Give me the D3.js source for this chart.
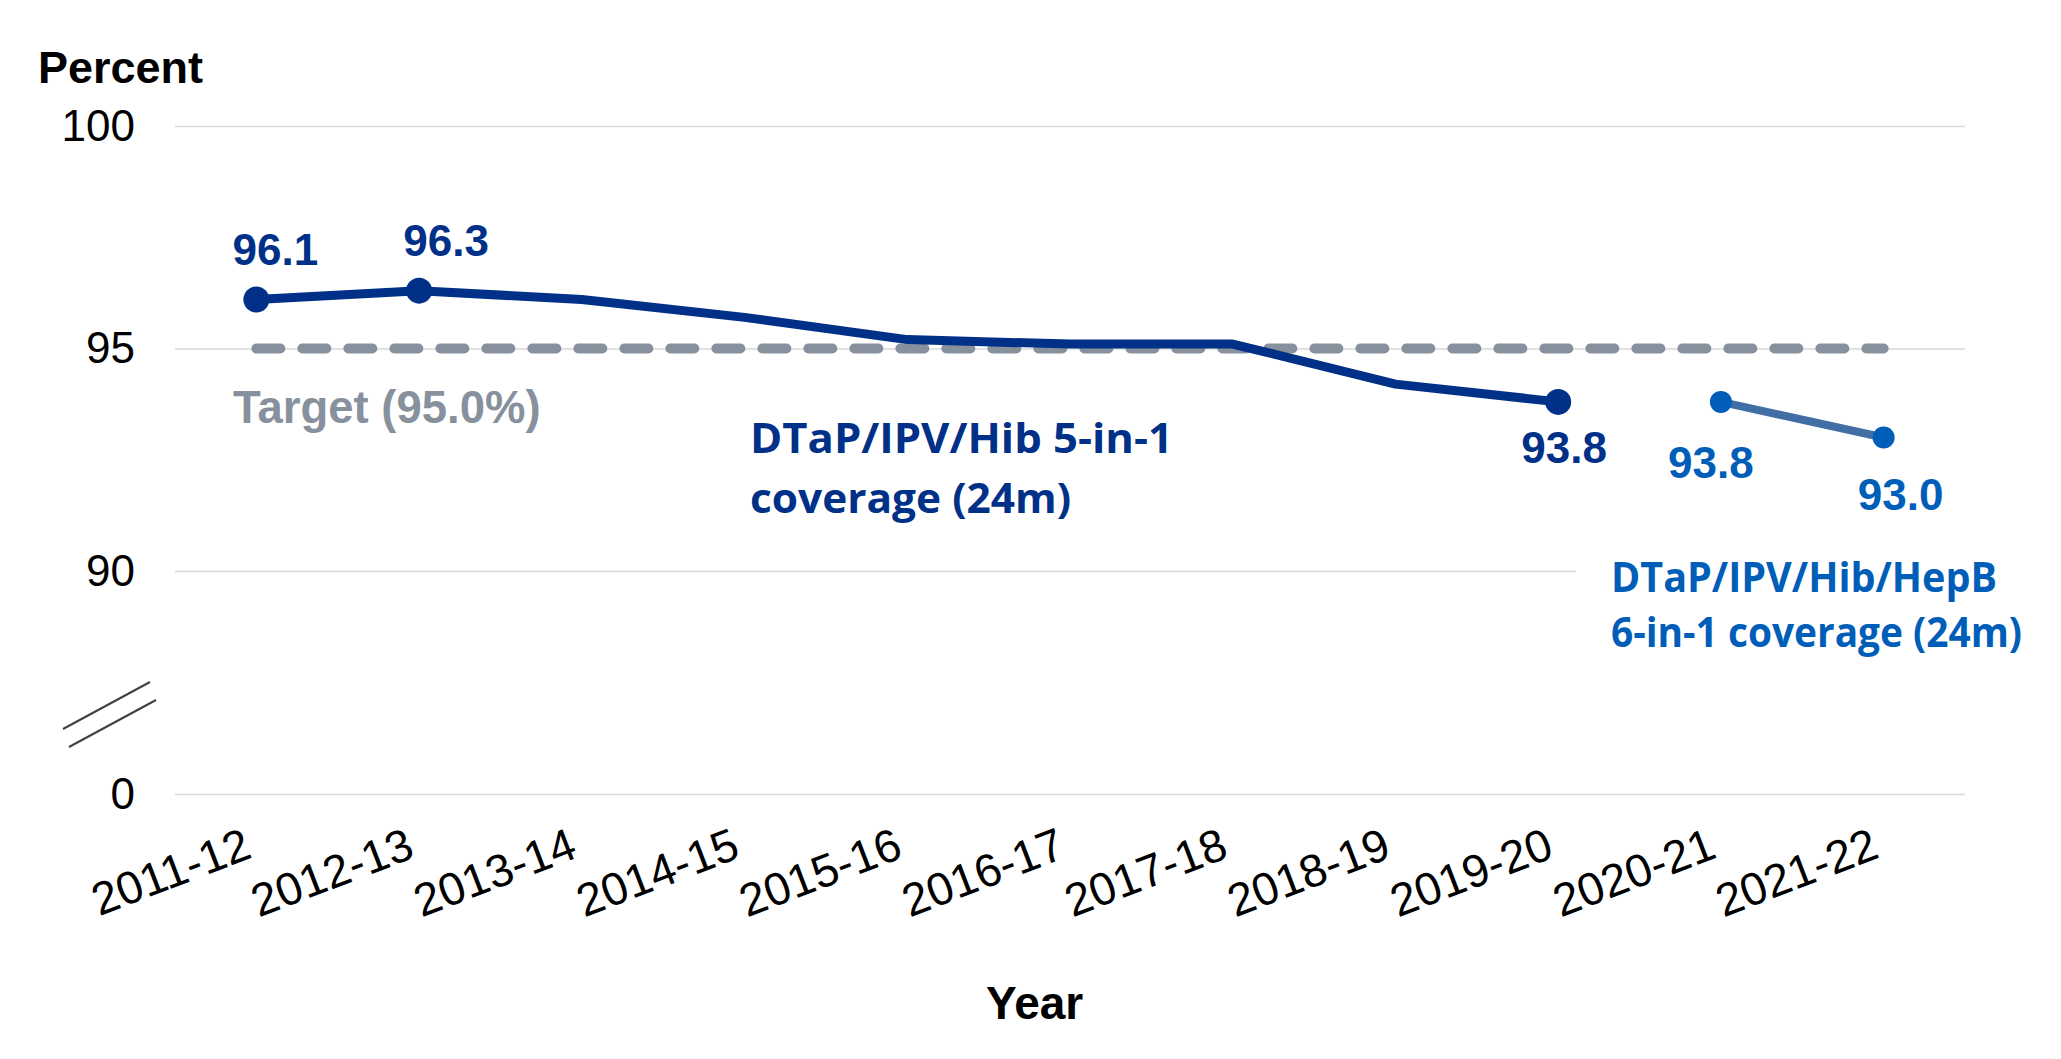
<!DOCTYPE html>
<html>
<head>
<meta charset="utf-8">
<script src="https://cdn.jsdelivr.net/npm/d3@7"></script>
<style>
  body { margin: 0; background: #fff; }
  text { font-family: "Liberation Sans", Arial, sans-serif; }
</style>
</head>
<body>
<script>
const years = ["2011-12", "2012-13", "2013-14", "2014-15", "2015-16", "2016-17",
  "2017-18", "2018-19", "2019-20", "2020-21", "2021-22"];
// DTaP/IPV/Hib 5-in-1 coverage at 24 months
const fiveInOne = [96.1, 96.3, 96.1, 95.7, 95.2, 95.1, 95.1, 94.2, 93.8, null, null];
// DTaP/IPV/Hib/HepB 6-in-1 coverage at 24 months
const sixInOne = [null, null, null, null, null, null, null, null, null, 93.8, 93.0];
const target = 95.0;
const yTicks = [0, 90, 95, 100];

// which points get a marker + value label
const fiveLabelled = ["2011-12", "2012-13", "2019-20"];
const sixLabelled = ["2020-21", "2021-22"];

const w = 2061, h = 1059;
const navy = "#003087", blue = "#005eb8", blueLine = "#426ea6", grey = "#87919d";

const svg = d3.select("body")
  .append("svg")
  .attr("width", w)
  .attr("height", h);

const x = d3.scalePoint()
  .domain(years)
  .range([175, 1965])
  .padding(0.5);

// broken axis: 0 sits just below 90
const y = d3.scaleLinear()
  .domain([0, 90, 100])
  .range([794, 571, 126]);

// gridlines + y labels
const yAxis = d3.axisLeft(y)
  .tickValues(yTicks)
  .tickSize(-(1965 - 175))
  .tickPadding(40)
  .tickFormat(d => d);

svg.append("g")
  .attr("transform", "translate(175,0)")
  .call(yAxis)
  .call(g => g.select(".domain").remove())
  .call(g => g.selectAll(".tick line").attr("stroke", "#d9d9d9").attr("stroke-width", 1.5))
  .call(g => g.selectAll(".tick text")
    .attr("fill", "#000")
    .attr("font-size", 44)
    .attr("font-family", "Liberation Sans, Arial, sans-serif"));

// axis break marks
svg.append("g")
  .attr("stroke", "#404040")
  .attr("stroke-width", 2)
  .selectAll("line")
  .data([0, 18])
  .enter()
  .append("line")
  .attr("x1", d => 63 + d / 3)
  .attr("y1", d => 729 + d)
  .attr("x2", d => 150 + d / 3)
  .attr("y2", d => 682 + d);

// x labels
const xAxis = d3.axisBottom(x).tickSize(0).tickPadding(0);
svg.append("g")
  .attr("transform", "translate(0,826)")
  .call(xAxis)
  .call(g => g.select(".domain").remove())
  .call(g => g.selectAll(".tick text")
    .attr("fill", "#000")
    .attr("font-size", 46)
    .attr("font-family", "Liberation Sans, Arial, sans-serif")
    .attr("text-anchor", "end")
    .attr("y", 0)
    .attr("dy", "0.72em")
    .attr("transform", "translate(-15,0) rotate(-21)"));

// target line
svg.append("line")
  .attr("x1", x(years[0]))
  .attr("x2", x(years[years.length - 1]))
  .attr("y1", y(target))
  .attr("y2", y(target))
  .attr("stroke", grey)
  .attr("stroke-width", 10)
  .attr("stroke-linecap", "round")
  .attr("stroke-dasharray", "24 22");

svg.append("text")
  .attr("x", 233)
  .attr("y", 423)
  .attr("font-size", 45.5)
  .attr("font-weight", "bold")
  .attr("fill", grey)
  .text(`Target (${target.toFixed(1)}%)`);

const line = d3.line()
  .defined(d => d.v != null)
  .x(d => x(d.year))
  .y(d => y(d.v));

const fiveData = years.map((year, i) => ({ year, v: fiveInOne[i] }));
const sixData = years.map((year, i) => ({ year, v: sixInOne[i] }));

svg.append("path")
  .datum(fiveData)
  .attr("d", line)
  .attr("fill", "none")
  .attr("stroke", navy)
  .attr("stroke-width", 9)
  .attr("stroke-linejoin", "round");

svg.append("path")
  .datum(sixData)
  .attr("d", line)
  .attr("fill", "none")
  .attr("stroke", blueLine)
  .attr("stroke-width", 8);

const fivePts = fiveData.filter(d => fiveLabelled.includes(d.year));
const sixPts = sixData.filter(d => sixLabelled.includes(d.year));

svg.append("g").selectAll("circle")
  .data(fivePts)
  .enter()
  .append("circle")
  .attr("cx", d => x(d.year))
  .attr("cy", d => y(d.v))
  .attr("r", 13)
  .attr("fill", navy);

svg.append("g").selectAll("circle")
  .data(sixPts)
  .enter()
  .append("circle")
  .attr("cx", d => x(d.year))
  .attr("cy", d => y(d.v))
  .attr("r", 11)
  .attr("fill", blue);

// value label offsets from each point
const fiveOffsets = [[19, -35], [27, -35], [6, 61]];
const sixOffsets = [[-10, 76], [17, 72]];

svg.append("g").selectAll("text")
  .data(fivePts)
  .enter()
  .append("text")
  .attr("x", (d, i) => x(d.year) + fiveOffsets[i][0])
  .attr("y", (d, i) => y(d.v) + fiveOffsets[i][1])
  .attr("text-anchor", "middle")
  .attr("font-size", 44)
  .attr("font-weight", "bold")
  .attr("fill", navy)
  .text(d => d.v.toFixed(1));

svg.append("g").selectAll("text")
  .data(sixPts)
  .enter()
  .append("text")
  .attr("x", (d, i) => x(d.year) + sixOffsets[i][0])
  .attr("y", (d, i) => y(d.v) + sixOffsets[i][1])
  .attr("text-anchor", "middle")
  .attr("font-size", 44)
  .attr("font-weight", "bold")
  .attr("fill", blue)
  .text(d => d.v.toFixed(1));

// series labels
const seriesLabel = (lines, x0, y0, lh, color, widths) => {
  lines.forEach((t, i) => {
    svg.append("text")
      .attr("x", x0)
      .attr("y", y0 + i * lh)
      .style("font-family", "'Open Sans', sans-serif")
      .attr("font-size", 42)
      .attr("font-weight", "bold")
      .attr("fill", color)
      .attr("textLength", widths[i])
      .attr("lengthAdjust", "spacingAndGlyphs")
      .text(t);
  });
};

seriesLabel(["DTaP/IPV/Hib 5-in-1", "coverage (24m)"], 750, 453, 60, navy, [423, 321]);

svg.append("rect")
  .attr("x", 1576)
  .attr("y", 545)
  .attr("width", w - 1576)
  .attr("height", 120)
  .attr("fill", "#fff");

seriesLabel(["DTaP/IPV/Hib/HepB", "6-in-1 coverage (24m)"], 1611, 592, 55, blue, [386, 411]);

svg.append("text")
  .attr("x", 38)
  .attr("y", 83)
  .attr("font-size", 45)
  .attr("font-weight", "bold")
  .attr("fill", "#000")
  .text("Percent");

svg.append("text")
  .attr("x", 986)
  .attr("y", 1019)
  .attr("font-size", 46)
  .attr("font-weight", "bold")
  .attr("fill", "#000")
  .text("Year");
</script>
</body>
</html>
